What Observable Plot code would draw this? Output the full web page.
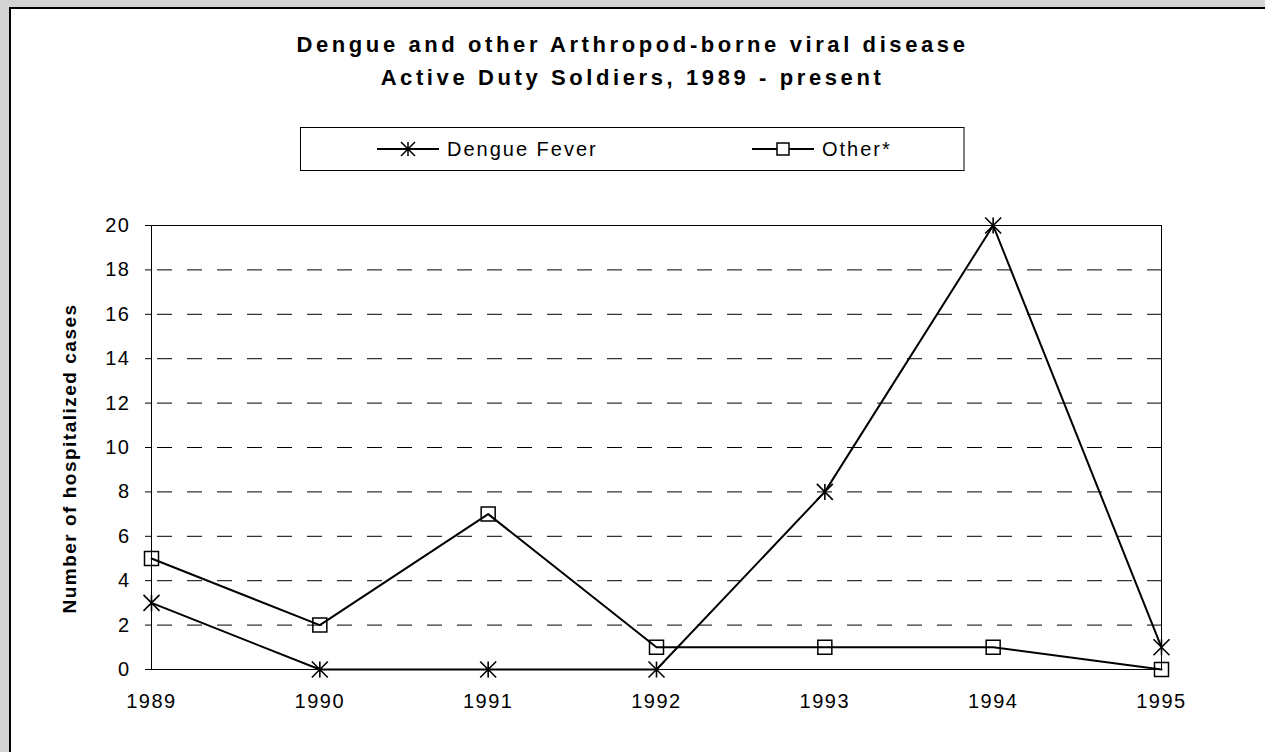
<!DOCTYPE html>
<html>
<head>
<meta charset="utf-8">
<script src="https://cdn.jsdelivr.net/npm/d3@7"></script>
<script src="https://cdn.jsdelivr.net/npm/@observablehq/plot@0.6"></script>
<style>
  html, body { margin: 0; padding: 0; }
  body { width: 1265px; height: 752px; overflow: hidden; position: relative; background: #d4d4d4;
         font-family: "Liberation Sans", Arial, sans-serif; }
  #panel { position: absolute; left: 9px; top: 7px; width: 1300px; height: 800px; background: #fff;
           border: 2px solid #000; box-sizing: border-box; }
  #title { position: absolute; left: 0; top: 28px; width: 1265px; text-align: center; font-weight: bold;
           font-size: 22px; letter-spacing: 3.6px; line-height: 33px; color: #000; }
  #legend { position: absolute; left: 300px; top: 127px; width: 665px; height: 44px; box-sizing: border-box;
            border: 1px solid #000; border-right: 2px solid #808080; background: #fff; }
  #legend .sw { position: absolute; top: 11px; }
  #legend .lab { position: absolute; top: 0; height: 42px; line-height: 42px; font-size: 20px; letter-spacing: 2px; color: #000; }
  #chart { position: absolute; left: 0; top: 190px; }
</style>
</head>
<body>
<div id="panel"></div>
<div id="title">Dengue and other Arthropod-borne viral disease<br>Active Duty Soldiers, 1989 - present</div>
<div id="legend"></div>
<div id="chart"></div>
<script>
const years = [1989, 1990, 1991, 1992, 1993, 1994, 1995];
const dengue = [3, 0, 0, 0, 8, 20, 1];
const other = [5, 2, 7, 1, 1, 1, 0];
const yTicks = [0, 2, 4, 6, 8, 10, 12, 14, 16, 18, 20];
const gridValues = [2, 4, 6, 8, 10, 12, 14, 16, 18];
const seriesNames = ["Dengue Fever", "Other*"];
const yLabel = "Number of hospitalized cases";

const dengueData = years.map((year, i) => ({year, value: dengue[i]}));
const otherData = years.map((year, i) => ({year, value: other[i]}));

const starSymbol = {
  draw(ctx, size) {
    const r = Math.sqrt(size / Math.PI);
    ctx.moveTo(-r, -r); ctx.lineTo(r, r);
    ctx.moveTo(-r, r); ctx.lineTo(r, -r);
    ctx.moveTo(0, -r); ctx.lineTo(0, r);
  }
};
const squareSymbol = {
  draw(ctx, size) {
    const r = Math.sqrt(size / Math.PI);
    ctx.moveTo(-r, -r); ctx.lineTo(r, -r); ctx.lineTo(r, r); ctx.lineTo(-r, r); ctx.closePath();
  }
};

const chart = Plot.plot({
  width: 1265,
  height: 540,
  marginLeft: 151,
  marginRight: 104,
  marginTop: 35,
  marginBottom: 61,
  style: {
    background: "none",
    overflow: "visible",
    fontFamily: "'Liberation Sans', Arial, sans-serif",
    fontSize: "20px",
    letterSpacing: "1.5px",
    color: "#000"
  },
  x: {domain: [1989, 1995]},
  y: {domain: [0, 20]},
  marks: [
    Plot.ruleY(gridValues, {stroke: "#000", strokeWidth: 1, strokeDasharray: "15,15", strokeDashoffset: -6}),
    Plot.frame({stroke: "#000", strokeWidth: 1}),
    Plot.axisY({ticks: yTicks, tickSize: 6, tickPadding: 15, tickFormat: d => String(d), label: null, stroke: "#000", strokeOpacity: 1}),
    Plot.axisX({ticks: years, tickSize: 0, tickPadding: 24, tickFormat: d => String(d), label: null}),
    Plot.line(dengueData, {x: "year", y: "value", stroke: "#000", strokeWidth: 2}),
    Plot.line(otherData, {x: "year", y: "value", stroke: "#000", strokeWidth: 2}),
    Plot.dot(dengueData, {x: "year", y: "value", symbol: starSymbol, r: 8, stroke: "#000", strokeWidth: 1.6, fill: "none"}),
    Plot.dot(otherData, {x: "year", y: "value", symbol: squareSymbol, r: 7, stroke: "#000", strokeWidth: 1.5, fill: "none"}),
    Plot.text([yLabel], {frameAnchor: "left", textAnchor: "middle", dx: -82, dy: 11, rotate: -90, fontSize: 19, fontWeight: "bold", fill: "#000"})
  ]
});
document.getElementById("chart").appendChild(chart);

// Legend
const legend = document.getElementById("legend");
const items = [
  {name: seriesNames[0], sw: 76, lab: 146, sym: "star"},
  {name: seriesNames[1], sw: 451, lab: 521, sym: "square"}
];
for (const it of items) {
  const ns = "http://www.w3.org/2000/svg";
  const svg = document.createElementNS(ns, "svg");
  svg.setAttribute("width", 62); svg.setAttribute("height", 20);
  svg.setAttribute("class", "sw");
  svg.style.left = it.sw + "px";
  const line = document.createElementNS(ns, "line");
  line.setAttribute("x1", 0); line.setAttribute("x2", 62); line.setAttribute("y1", 10); line.setAttribute("y2", 10);
  line.setAttribute("stroke", "#000"); line.setAttribute("stroke-width", 2);
  svg.appendChild(line);
  const p = document.createElementNS(ns, "path");
  const r = it.sym === "star" ? 7 : 6;
  const path = d3.path();
  (it.sym === "star" ? starSymbol : squareSymbol).draw(path, r * r * Math.PI);
  p.setAttribute("d", path.toString());
  p.setAttribute("transform", "translate(31,10)");
  p.setAttribute("fill", it.sym === "star" ? "none" : "#fff");
  p.setAttribute("stroke", "#000"); p.setAttribute("stroke-width", 1.5);
  svg.appendChild(p);
  legend.appendChild(svg);
  const span = document.createElement("span");
  span.className = "lab";
  span.style.left = it.lab + "px";
  span.textContent = it.name;
  legend.appendChild(span);
}
</script>
</body>
</html>
